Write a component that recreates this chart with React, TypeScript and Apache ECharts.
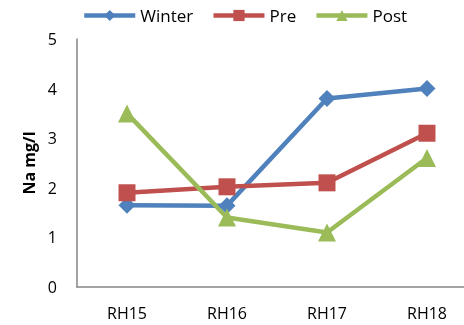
import React, { useEffect, useRef } from "react";
import * as echarts from "echarts";

const categories = ["RH15", "RH16", "RH17", "RH18"];
const winter = [1.65, 1.64, 3.8, 4.0];
const pre = [1.9, 2.02, 2.1, 3.1];
const post = [3.5, 1.4, 1.1, 2.6];
const yTicks = { min: 0, max: 5, interval: 1 };

const FONT = "'Open Sans', 'Liberation Sans', sans-serif";

export default function App() {
  const ref = useRef<HTMLDivElement>(null);
  useEffect(() => {
    if (!ref.current) return;
    const chart = echarts.init(ref.current, undefined, { renderer: "svg" });
    const mk = (name: string, data: number[], color: string, symbol: string, size: number) => ({
      name,
      type: "line",
      data,
      symbol,
      symbolSize: size,
      showAllSymbol: true,
      itemStyle: { color },
      lineStyle: { color, width: 4.5 },
      emphasis: { disabled: true },
    });
    chart.setOption({
      animation: false,
      textStyle: { fontFamily: FONT },
      legend: {
        top: 2,
        left: 77,
        itemWidth: 51,
        itemHeight: 14,
        itemGap: 18,
        lineStyle: { width: 4.5 },
        textStyle: { fontSize: 17, color: "#000", fontFamily: FONT },
        data: ["Winter", "Pre", "Post"],
      },
      grid: { left: 77, top: 39, right: 3, bottom: 38, containLabel: false },
      xAxis: {
        type: "category",
        data: categories,
        boundaryGap: true,
        axisLine: { lineStyle: { color: "#868686", width: 1.5 } },
        axisTick: { show: false },
        axisLabel: { color: "#000", fontSize: 16, margin: 18, fontFamily: FONT },
        splitLine: { show: false },
      },
      yAxis: {
        type: "value",
        min: yTicks.min,
        max: yTicks.max,
        interval: yTicks.interval,
        name: "Na mg/l",
        nameLocation: "middle",
        nameGap: 40,
        nameTextStyle: { fontSize: 16, fontWeight: "bold", color: "#000", fontFamily: FONT },
        axisLine: { show: true, lineStyle: { color: "#868686", width: 1.5 } },
        axisTick: { show: false },
        axisLabel: { color: "#000", fontSize: 16, margin: 20, fontFamily: FONT },
        splitLine: { show: false },
      },
      series: [
        mk("Winter", winter, "#4F81BD", "diamond", 17),
        mk("Pre", pre, "#C0504D", "rect", 17),
        mk("Post", post, "#9BBB59", "triangle", 18),
      ],
    });
    return () => chart.dispose();
  }, []);
  return (
    <div style={{ position: "fixed", left: 0, top: 0, width: 464, height: 325, overflow: "hidden" }}>
      <div ref={ref} style={{ width: 480, height: 325 }} />
    </div>
  );
}
